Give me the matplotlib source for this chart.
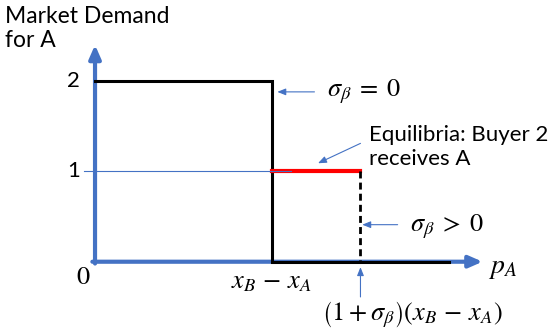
import matplotlib
matplotlib.use("Agg")
import matplotlib.pyplot as plt

plt.rcParams["mathtext.fontset"] = "stix"

# Demand schedule for good A (price measured in units of x_B - x_A)
gap = 1.0            # x_B - x_A
sigma_beta = 0.5     # sigma_beta > 0 case
price_end = 2.0      # end of drawn demand schedule
high_demand = 2      # both buyers buy A
mid_demand = 1       # only buyer 2 buys A
zero_demand = 0
y_ticks = [1, 2]
y_tick_labels = ["1", "2"]

blue = "#4472C4"
sans = "Lato"

fig = plt.figure(figsize=(5.53, 3.33), dpi=100)
ax = fig.add_axes([0, 0, 1, 1])
ax.set_xlim(-0.537, 2.588)
ax.set_ylim(-0.789, 2.897)
ax.axis("off")

x_hi = (1 + sigma_beta) * gap

# axes with arrowheads
ax.annotate("", xy=(0, 2.40), xytext=(0, -0.02),
            arrowprops=dict(arrowstyle="-|>,head_length=0.8,head_width=0.35",
                            color=blue, lw=3, shrinkA=0, shrinkB=0))
ax.annotate("", xy=(2.19, 0), xytext=(-0.015, 0),
            arrowprops=dict(arrowstyle="-|>,head_length=0.8,head_width=0.35",
                            color=blue, lw=3, shrinkA=0, shrinkB=0))

# demand for sigma_beta = 0
ax.plot([0, gap, gap, price_end], [high_demand, high_demand, zero_demand, zero_demand],
        color="black", lw=2.2, solid_joinstyle="miter", zorder=3)
# equilibrium segment where buyer 2 receives A
ax.plot([gap, x_hi], [mid_demand, mid_demand], color="red", lw=3, zorder=3)
# sigma_beta > 0 extension
ax.plot([x_hi, x_hi], [mid_demand, zero_demand], color="black", lw=2,
        linestyle=(0, (2.5, 1.5)), zorder=3)
# guide line at demand of 1
ax.plot([-0.06, 1.11], [mid_demand, mid_demand], color=blue, lw=0.8, zorder=4)

# tick labels
for v, lab in zip(y_ticks, y_tick_labels):
    ax.text(-0.12, v, lab, fontsize=16, family=sans, ha="center", va="center")
ax.text(-0.07, -0.18, "0", fontsize=19, family="STIXGeneral", ha="center", va="center")
ax.text(gap, -0.22, r"$x_B\,-\,x_A$", fontsize=19, ha="center", va="center")
ax.text(2.22, -0.06, r"$p_A$", fontsize=20, ha="left", va="center")

# axis title
ax.text(-0.51, 2.83, "Market Demand\nfor A", fontsize=16.5, family=sans,
        ha="left", va="top", linespacing=1.2)

arrow_thin = dict(arrowstyle="-|>,head_length=0.5,head_width=0.2", color=blue,
                  lw=0.8, shrinkA=0, shrinkB=0)

# sigma = 0 label
ax.annotate("", xy=(1.03, 1.88), xytext=(1.24, 1.88), arrowprops=arrow_thin)
ax.text(1.31, 1.88, r"$\sigma_\beta\;=\;0$", fontsize=19, ha="left", va="center")

# equilibrium label
ax.annotate("", xy=(1.26, 1.09), xytext=(1.5, 1.31), arrowprops=arrow_thin)
ax.text(1.55, 1.27, "Equilibria: Buyer 2\nreceives A", fontsize=16, family=sans,
        ha="left", va="center", linespacing=1.3)

# sigma > 0 label
ax.annotate("", xy=(1.51, 0.41), xytext=(1.71, 0.41), arrowprops=arrow_thin)
ax.text(1.78, 0.39, r"$\sigma_\beta\;>\;0$", fontsize=19, ha="left", va="center")

# (1 + sigma) gap label
ax.annotate("", xy=(x_hi, -0.06), xytext=(x_hi, -0.39), arrowprops=arrow_thin)
ax.text(1.79, -0.59, r"$\left(1+\sigma_\beta\right)\left(x_B\,-\,x_A\right)$",
        fontsize=19, ha="center", va="center")

fig.savefig("out.png", dpi=100)
